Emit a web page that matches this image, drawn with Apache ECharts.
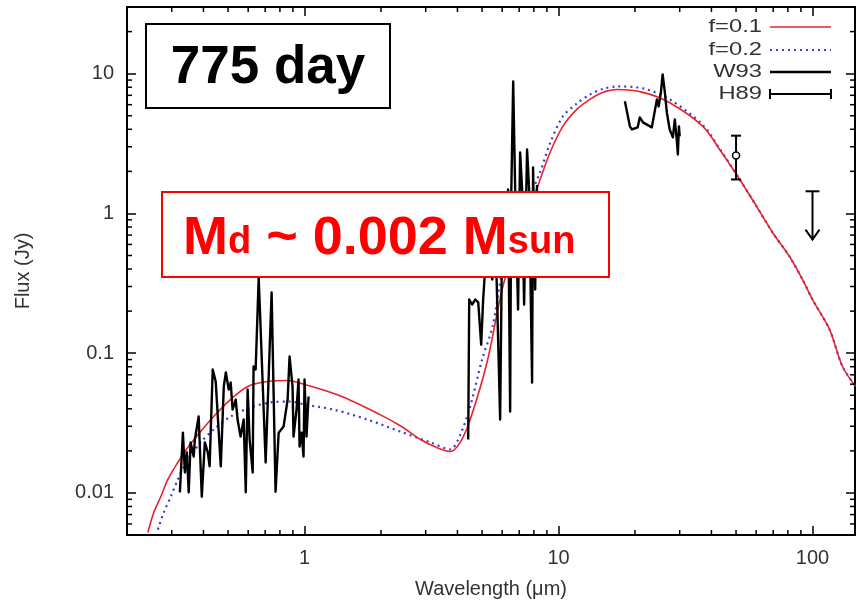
<!DOCTYPE html>
<html>
<head>
<meta charset="utf-8">
<script src="https://cdn.jsdelivr.net/npm/echarts@6/dist/echarts.min.js"></script>
<style>
html,body{margin:0;padding:0;background:#fff;}
#chart{width:856px;height:605px;}
</style>
</head>
<body>
<div id="chart"></div>
<script>
// f=0.1 模型曲线
var f01X = [0.2416, 0.255, 0.2718, 0.2894, 0.317, 0.347, 0.39, 0.4388, 0.512, 0.597, 0.715, 0.858, 1.0, 1.38, 1.99, 2.4, 2.86, 3.3, 3.75, 4.1, 4.49, 5.24, 6.0, 6.87, 8.2, 9.26, 10.4, 11.8, 13.3, 15, 17, 21.5, 27.4, 37, 43.1, 51.7, 60.3, 69.6, 81.2, 91.3, 100, 116.7, 131.2, 147.5];
var f01Y = [0.00521, 0.00724, 0.00942, 0.01247, 0.01651, 0.02114, 0.0275, 0.0352, 0.0467, 0.0578, 0.0627, 0.0638, 0.0597, 0.0495, 0.0362, 0.030, 0.0241, 0.0212, 0.0198, 0.023, 0.0335, 0.0872, 0.286, 0.65, 1.49, 2.73, 4.2, 5.55, 6.55, 7.35, 7.7, 7.35, 6.2, 4.2, 2.87, 1.75, 1.12, 0.731, 0.492, 0.337, 0.242, 0.148, 0.0803, 0.058];
// f=0.2 模型曲线
var f02X = [0.2645, 0.279, 0.2975, 0.317, 0.347, 0.39, 0.4388, 0.512, 0.614, 0.735, 0.881, 1.0, 1.30, 1.77, 2.38, 3.13, 3.75, 4.1, 4.49, 5.0, 5.5, 6.0, 6.87, 8.46, 9.26, 10.4, 11.8, 13.3, 15, 17, 21.5, 27.4, 37, 43.1, 51.7, 60.3, 69.6, 81.2, 91.3, 100, 116.7, 131.2, 147.5];
var f02Y = [0.00547, 0.00724, 0.00942, 0.01247, 0.01734, 0.0230, 0.0284, 0.0352, 0.0409, 0.0444, 0.0451, 0.0429, 0.0395, 0.0335, 0.0275, 0.0230, 0.0205, 0.026, 0.0415, 0.09, 0.155, 0.378, 0.807, 1.97, 3.17, 4.95, 6.1, 7.1, 7.8, 8.1, 7.85, 6.55, 4.3, 2.9, 1.75, 1.12, 0.731, 0.492, 0.337, 0.242, 0.148, 0.0803, 0.058];
// W93 光学段
var w93OptX = [0.323, 0.332, 0.338, 0.344, 0.35, 0.356, 0.366, 0.37, 0.383, 0.394, 0.405, 0.416, 0.423, 0.435, 0.447, 0.455, 0.468, 0.481, 0.49, 0.503, 0.512, 0.521, 0.536, 0.545, 0.56, 0.576, 0.587, 0.597, 0.608, 0.625, 0.63, 0.642, 0.66, 0.703, 0.742, 0.769, 0.791, 0.827, 0.858, 0.873, 0.897, 0.905, 0.93, 0.947, 0.956, 0.973, 0.991, 1.0, 1.018, 1.037];
var w93OptY = [0.0101, 0.027, 0.014, 0.0195, 0.0101, 0.023, 0.0182, 0.0241, 0.0352, 0.0094, 0.023, 0.0195, 0.0155, 0.0764, 0.0627, 0.0617, 0.0155, 0.0578, 0.0728, 0.055, 0.0617, 0.0395, 0.0466, 0.0335, 0.0253, 0.0335, 0.0101, 0.055, 0.0241, 0.014, 0.0803, 0.0764, 0.348, 0.0165, 0.272, 0.0102, 0.027, 0.0299, 0.0466, 0.0947, 0.0578, 0.0253, 0.0395, 0.0648, 0.0215, 0.027, 0.0182, 0.0648, 0.0253, 0.049];
// W93 近红外段
var w93NirX = [4.41, 4.45, 4.57, 4.7, 4.83, 4.96, 5.05, 5.14, 5.28, 5.48, 5.68, 5.89, 6.0, 6.22, 6.33, 6.45, 6.51, 6.63, 6.75, 6.93, 7.06, 7.19, 7.32, 7.52, 7.66, 7.87, 7.94, 8.09, 8.23];
var w93NirY = [0.0241, 0.242, 0.223, 0.242, 0.231, 0.115, 0.242, 0.397, 0.552, 0.337, 0.469, 0.0335, 0.768, 0.469, 1.485, 0.0382, 1.26, 8.81, 1.485, 0.2055, 2.73, 1.485, 0.223, 2.87, 1.485, 0.0617, 2.13, 0.286, 1.6];
// W93 中红外段
var w93MirX = [18.25, 19.1, 19.45, 20.5, 20.9, 21.5, 23.3, 24.4, 24.8, 25.3, 25.7, 26.2, 26.7, 27.4, 28.2, 28.7, 29.2, 29.5, 29.8, 30.0];
var w93MirY = [6.34, 4.2, 3.99, 4.13, 4.87, 4.48, 4.13, 6.55, 5.83, 7.35, 9.89, 7.47, 5.28, 3.99, 3.5, 4.71, 3.39, 2.64, 4.2, 3.56];
// H89: 波长, 流量, 下限, 上限
var h89Point = [[50, 2.6, 1.75, 3.6]];
// H89 上限: 波长, 上限值, 箭头终点
var h89Limit = [[100, 1.44, 0.65]];
// 次刻度
var xMinorTicks = [0.3, 0.4, 0.5, 0.6, 0.7, 0.8, 0.9, 2, 3, 4, 5, 6, 7, 8, 9, 20, 30, 40, 50, 60, 70, 80, 90];
var yMinorTicks = [0.006, 0.007, 0.008, 0.009, 0.02, 0.03, 0.04, 0.05, 0.06, 0.07, 0.08, 0.09, 0.2, 0.3, 0.4, 0.5, 0.6, 0.7, 0.8, 0.9, 2, 3, 4, 5, 6, 7, 8, 9, 20];
// 图例
var legendNames = ['f=0.1', 'f=0.2', 'W93', 'H89'];

var FONT = '"Liberation Sans", Arial, Helvetica, sans-serif';
var RED = '#e8242a';
var BLUE = '#3b3bd6';

function pairs(xs, ys) {
    var out = [];
    for (var i = 0; i < xs.length; i++) {
        out.push([xs[i], ys[i]]);
    }
    return out;
}

function decadeLabel(v) {
    var l = Math.log(v) / Math.LN10;
    var p = Math.round(l);
    if (Math.abs(l - p) > 1e-6) return '';
    return p < 0 ? Math.pow(10, p).toFixed(-p) : String(Math.round(Math.pow(10, p)));
}

function logAxis(pos, min, max, showLabel, name, nameGap) {
    return {
        type: 'log',
        logBase: 10,
        position: pos,
        min: min,
        max: max,
        name: name || '',
        nameLocation: 'middle',
        nameGap: nameGap || 0,
        nameTextStyle: { fontFamily: FONT, fontSize: 20, color: '#333' },
        axisLine: { show: true, lineStyle: { color: '#000', width: 2 } },
        axisTick: { show: true, inside: true, length: 9, lineStyle: { color: '#000', width: 1.5 } },
        minorTick: { show: false },
        splitLine: { show: false },
        axisLabel: {
            show: showLabel,
            showMinLabel: false,
            showMaxLabel: false,
            formatter: decadeLabel,
            fontFamily: FONT,
            fontSize: 20,
            color: '#333',
            margin: 13
        }
    };
}

var chart = echarts.init(document.getElementById('chart'));

var modelLine = function (name, data, color, type) {
    return {
        name: name,
        type: 'line',
        xAxisIndex: 0,
        yAxisIndex: 0,
        data: data,
        showSymbol: false,
        symbol: 'none',
        smooth: 0.3,
        lineStyle: { color: color, width: type === 'solid' ? 1.6 : 2.2, type: type },
        z: 3
    };
};

var dataLine = function (data) {
    return {
        name: 'W93',
        type: 'line',
        xAxisIndex: 0,
        yAxisIndex: 0,
        data: data,
        showSymbol: false,
        symbol: 'none',
        lineStyle: { color: '#000', width: 2.4, join: 'round' },
        z: 4
    };
};

function legendText(name, y) {
    return {
        type: 'text', z: 100, x: 762, y: y, scaleX: 1.25,
        style: { x: 0, y: 0, text: name, textAlign: 'right', textVerticalAlign: 'middle', font: '19px ' + FONT, fill: '#333' }
    };
}

var option = {
    animation: false,
    backgroundColor: '#fff',
    grid: { left: 127, right: 1, top: 7, bottom: 70, containLabel: false },
    xAxis: [
        logAxis('bottom', 0.2, 147, true, 'Wavelength (\u03bcm)', 44),
        logAxis('top', 0.2, 147, false)
    ],
    yAxis: [
        logAxis('left', 0.005, 30, true, 'Flux (Jy)', 94),
        logAxis('right', 0.005, 30, false)
    ],
    series: [
        modelLine('f=0.2', pairs(f02X, f02Y), BLUE, [2, 4]),
        modelLine('f=0.1', pairs(f01X, f01Y), RED, 'solid'),
        dataLine(pairs(w93OptX, w93OptY)),
        dataLine(pairs(w93NirX, w93NirY)),
        dataLine(pairs(w93MirX, w93MirY)),
        {
            // H89 误差棒
            name: 'H89',
            type: 'custom',
            xAxisIndex: 0,
            yAxisIndex: 0,
            data: h89Point,
            z: 4,
            renderItem: function (params, api) {
                var c = api.coord([api.value(0), api.value(1)]);
                var lo = api.coord([api.value(0), api.value(2)]);
                var hi = api.coord([api.value(0), api.value(3)]);
                var st = { stroke: '#000', lineWidth: 2, fill: null };
                return {
                    type: 'group',
                    children: [
                        { type: 'line', shape: { x1: c[0], y1: lo[1], x2: c[0], y2: hi[1] }, style: st },
                        { type: 'line', shape: { x1: c[0] - 5, y1: lo[1], x2: c[0] + 5, y2: lo[1] }, style: st },
                        { type: 'line', shape: { x1: c[0] - 5, y1: hi[1], x2: c[0] + 5, y2: hi[1] }, style: st },
                        { type: 'circle', shape: { cx: c[0], cy: c[1], r: 3.5 }, style: { stroke: '#000', lineWidth: 1.5, fill: '#fff' } }
                    ]
                };
            }
        },
        {
            // H89 上限箭头
            name: 'H89',
            type: 'custom',
            xAxisIndex: 0,
            yAxisIndex: 0,
            data: h89Limit,
            z: 4,
            renderItem: function (params, api) {
                var top = api.coord([api.value(0), api.value(1)]);
                var tip = api.coord([api.value(0), api.value(2)]);
                var st = { stroke: '#000', lineWidth: 2, fill: null };
                return {
                    type: 'group',
                    children: [
                        { type: 'line', shape: { x1: top[0] - 7, y1: top[1], x2: top[0] + 7, y2: top[1] }, style: st },
                        { type: 'line', shape: { x1: top[0], y1: top[1], x2: tip[0], y2: tip[1] }, style: st },
                        { type: 'polyline', shape: { points: [[tip[0] - 7, tip[1] - 10], [tip[0], tip[1]], [tip[0] + 7, tip[1] - 10]] }, style: st }
                    ]
                };
            }
        },
        {
            // x 轴次刻度 (上下)
            type: 'custom',
            xAxisIndex: 0,
            yAxisIndex: 0,
            silent: true,
            clip: false,
            data: xMinorTicks.map(function (v) { return [v, 1]; }),
            z: 5,
            renderItem: function (params, api) {
                var cs = params.coordSys;
                var px = api.coord([api.value(0), 1])[0];
                var st = { stroke: '#000', lineWidth: 1.5 };
                return {
                    type: 'group',
                    children: [
                        { type: 'line', shape: { x1: px, y1: cs.y + cs.height, x2: px, y2: cs.y + cs.height - 5 }, style: st },
                        { type: 'line', shape: { x1: px, y1: cs.y, x2: px, y2: cs.y + 5 }, style: st }
                    ]
                };
            }
        },
        {
            // y 轴次刻度 (左右)
            type: 'custom',
            xAxisIndex: 0,
            yAxisIndex: 0,
            silent: true,
            clip: false,
            data: yMinorTicks.map(function (v) { return [1, v]; }),
            z: 5,
            renderItem: function (params, api) {
                var cs = params.coordSys;
                var py = api.coord([1, api.value(1)])[1];
                var st = { stroke: '#000', lineWidth: 1.5 };
                return {
                    type: 'group',
                    children: [
                        { type: 'line', shape: { x1: cs.x, y1: py, x2: cs.x + 5, y2: py }, style: st },
                        { type: 'line', shape: { x1: cs.x + cs.width, y1: py, x2: cs.x + cs.width - 5, y2: py }, style: st }
                    ]
                };
            }
        }
    ],
    graphic: [
        // 图例
        legendText(legendNames[0], 27),
        { type: 'line', z: 100, shape: { x1: 770, y1: 27, x2: 831, y2: 27 }, style: { stroke: RED, lineWidth: 1.6 } },
        legendText(legendNames[1], 50),
        { type: 'line', z: 100, shape: { x1: 770, y1: 50, x2: 831, y2: 50 }, style: { stroke: BLUE, lineWidth: 2.2, lineDash: [2, 4] } },
        legendText(legendNames[2], 72),
        { type: 'line', z: 100, shape: { x1: 770, y1: 72, x2: 831, y2: 72 }, style: { stroke: '#000', lineWidth: 2.4 } },
        legendText(legendNames[3], 94),
        { type: 'line', z: 100, shape: { x1: 770, y1: 94, x2: 831, y2: 94 }, style: { stroke: '#000', lineWidth: 2 } },
        { type: 'line', z: 100, shape: { x1: 770, y1: 89, x2: 770, y2: 99 }, style: { stroke: '#000', lineWidth: 2 } },
        { type: 'line', z: 100, shape: { x1: 831, y1: 89, x2: 831, y2: 99 }, style: { stroke: '#000', lineWidth: 2 } },
        // 775 day 框
        { type: 'rect', z: 100, shape: { x: 146, y: 24, width: 244, height: 84 }, style: { fill: '#fff', stroke: '#000', lineWidth: 2 } },
        { type: 'text', z: 101, style: { x: 268, y: 68, text: '775 day', textAlign: 'center', textVerticalAlign: 'middle', font: 'bold 53px ' + FONT, fill: '#000' } },
        // Md 框
        { type: 'rect', z: 100, shape: { x: 162, y: 192, width: 447, height: 85 }, style: { fill: '#fff', stroke: '#ff0000', lineWidth: 2 } },
        {
            type: 'text', z: 101,
            style: {
                x: 183, y: 236,
                text: '{b|M}{s|d}{b| ~ 0.002 M}{s|sun}',
                textAlign: 'left',
                textVerticalAlign: 'middle',
                fill: '#ff0000',
                rich: {
                    b: { font: 'bold 54px ' + FONT, fill: '#ff0000', verticalAlign: 'bottom', lineHeight: 60 },
                    s: { font: 'bold 38px ' + FONT, fill: '#ff0000', verticalAlign: 'bottom', lineHeight: 60, padding: [0, 0, 4, 0] }
                }
            }
        }
    ]
};

chart.setOption(option);
window.onresize = chart.resize;
</script>
</body>
</html>
